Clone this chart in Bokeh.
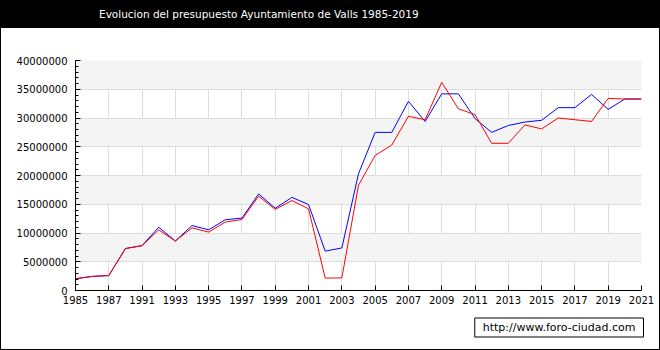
from bokeh.plotting import figure
from bokeh.layouts import column
from bokeh.models import (Range1d, FixedTicker, BasicTickFormatter, Title, Div)
from bokeh.embed import file_html
from bokeh.resources import INLINE

years = ["1985", "1986", "1987", "1989", "1991", "1992", "1993", "1994", "1995", "1996",
         "1997", "1998", "1999", "2000", "2001", "2002", "2003", "2004", "2005", "2006",
         "2007", "2008", "2009", "2010", "2011", "2012", "2013", "2014", "2015", "2016",
         "2017", "2018", "2019", "2020", "2021"]

blue_values = [2050000, 2450000, 2600000, 7300000, 7800000, 11000000, 8600000, 11300000,
               10550000, 12300000, 12600000, 16800000, 14300000, 16200000, 14950000,
               6850000, 7400000, 20300000, 27500000, 27500000, 32900000, 29400000,
               34200000, 34200000, 29900000, 27500000, 28700000, 29300000, 29600000,
               31800000, 31800000, 34100000, 31500000, 33300000, 33300000]

red_values = [2050000, 2450000, 2600000, 7300000, 7800000, 10550000, 8600000, 10900000,
              10150000, 11900000, 12350000, 16400000, 14100000, 15650000, 14200000,
              2150000, 2200000, 18300000, 23500000, 25300000, 30300000, 29700000,
              36200000, 31600000, 30600000, 25600000, 25600000, 28800000, 28100000,
              30000000, 29700000, 29400000, 33400000, 33300000, 33300000]

y_ticks = [0, 5000000, 10000000, 15000000, 20000000, 25000000, 30000000, 35000000, 40000000]

title_text = "Evolucion del presupuesto Ayuntamiento de Valls 1985-2019"
watermark = "http://www.foro-ciudad.com"

xs = list(range(len(years)))
tick_pos = [i for i in xs if i % 2 == 0]
overrides = {i: years[i] for i in tick_pos}

FONT = "DejaVu Sans"

# title bar
title_div = Div(text=title_text, width=658, height=27, margin=0,
                styles={"background-color": "black", "color": "white",
                        "font-family": FONT, "font-size": "10.5px",
                        "line-height": "27px", "text-indent": "98px",
                        "white-space": "nowrap", "overflow": "hidden"})

p = figure(width=658, height=321, output_backend="svg", toolbar_location=None,
           x_range=Range1d(0, len(years) - 1), y_range=Range1d(0, y_ticks[-1]),
           min_border_left=74, min_border_right=18, min_border_top=32, min_border_bottom=59,
           background_fill_color="white", border_fill_color="white",
           title=None, margin=0)
p.outline_line_color = None

# axes
p.xaxis.ticker = FixedTicker(ticks=tick_pos)
p.xaxis.major_label_overrides = overrides
p.xaxis.major_tick_in = 5
p.xaxis.major_tick_out = 0
p.xaxis.minor_tick_line_color = None
p.xaxis.axis_line_color = "black"
p.xaxis.major_tick_line_color = "black"
p.xaxis.major_label_text_font = FONT
p.xaxis.major_label_text_font_size = "10px"
p.xaxis.major_label_text_color = "black"
p.xaxis.major_label_standoff = 5

p.yaxis.ticker = FixedTicker(ticks=y_ticks,
                             minor_ticks=[i * 1000000 for i in range(0, 41)])
p.yaxis.formatter = BasicTickFormatter(use_scientific=False)
p.yaxis.major_tick_in = 5
p.yaxis.major_tick_out = 0
p.yaxis.minor_tick_in = 3
p.yaxis.minor_tick_out = 0
p.yaxis.axis_line_color = "black"
p.yaxis.major_tick_line_color = "black"
p.yaxis.minor_tick_line_color = "black"
p.yaxis.major_label_text_font = FONT
p.yaxis.major_label_text_font_size = "10px"
p.yaxis.major_label_text_color = "black"
p.yaxis.major_label_standoff = 8

# grid
p.xgrid.ticker = FixedTicker(ticks=tick_pos)
p.ygrid.ticker = FixedTicker(ticks=y_ticks)
p.xgrid.grid_line_color = "#dddddd"
p.ygrid.grid_line_color = "#dddddd"
p.ygrid.band_fill_color = "#f4f4f4"
p.ygrid.band_fill_alpha = 1.0

# lines
p.line(xs, blue_values, line_color="#0000ff", line_width=1)
p.line(xs, red_values, line_color="#ff0000", line_width=1)

# watermark
p.add_layout(Title(text=watermark, align="right", text_color="black",
                   text_font=FONT, text_font_size="11px", text_font_style="normal",
                   background_fill_color="white", border_line_color="black",
                   padding=(8, 3), standoff=19, offset=-2), "below")

layout = column(title_div, p, spacing=0, margin=0, styles={"border": "1px solid black"})

open("out.html", "w").write(file_html(layout, INLINE))
